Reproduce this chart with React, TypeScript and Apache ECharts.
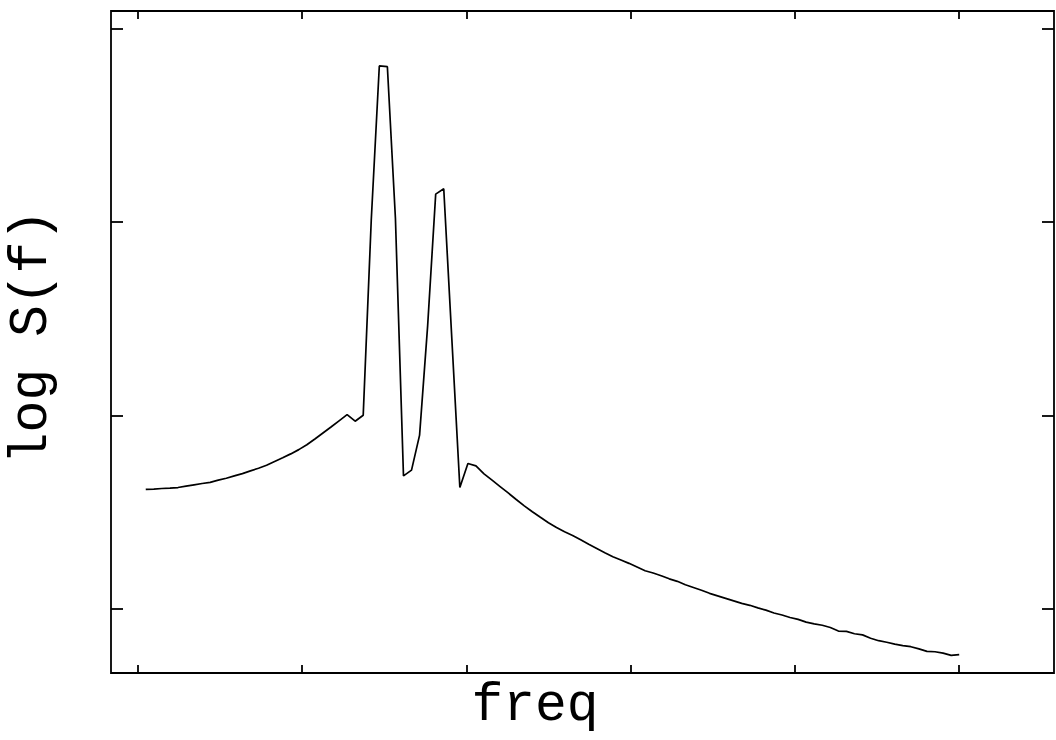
import React, { useEffect, useRef } from "react";
import * as echarts from "echarts";

// frequency step: f_k = k / 204, k = 1..102
const freqStep = 1 / 204;
const logS: number[] = [
  0.618, 0.620, 0.623, 0.625, 0.628, 0.635, 0.642, 0.649, 0.655, 0.666,
  0.676, 0.688, 0.700, 0.714, 0.728, 0.743, 0.763, 0.782, 0.802, 0.824,
  0.849, 0.879, 0.910, 0.941, 0.973, 1.005, 0.971, 1.002, 2.011, 2.808,
  2.804, 2.020, 0.688, 0.718, 0.899, 1.464, 2.145, 2.173, 1.400, 0.628,
  0.752, 0.740, 0.699, 0.666, 0.633, 0.600, 0.566, 0.533, 0.503, 0.474,
  0.446, 0.421, 0.399, 0.380, 0.358, 0.335, 0.313, 0.291, 0.270, 0.253,
  0.236, 0.217, 0.198, 0.186, 0.172, 0.156, 0.143, 0.125, 0.111, 0.097,
  0.081, 0.068, 0.055, 0.042, 0.029, 0.019, 0.006, -0.006, -0.021, -0.031,
  -0.044, -0.054, -0.068, -0.077, -0.084, -0.096, -0.114, -0.116, -0.128, -0.134,
  -0.151, -0.164, -0.172, -0.182, -0.189, -0.195, -0.206, -0.219, -0.221, -0.228,
  -0.240, -0.236,
];
const xTicks = [0, 0.1, 0.2, 0.3, 0.4, 0.5];
const yTicks = [0, 1, 2, 3];
const xLabel = "freq";
const yLabel = "log S(f)";

const FONT = "'Courier New', 'Liberation Mono', monospace";

export default function App() {
  const ref = useRef<HTMLDivElement>(null);
  useEffect(() => {
    if (!ref.current) return;
    const chart = echarts.init(ref.current, null, { renderer: "svg" });
    const data = logS.map((v, i) => [(i + 1) * freqStep, v]);
    const xMin = -0.01625, xMax = 0.5577, yMin = -0.331, yMax = 3.092;
    const xAxisBase = (pos: "bottom" | "top") => ({
      type: "value" as const,
      position: pos,
      min: xMin,
      max: xMax,
      axisLine: { show: false, onZero: false },
      splitLine: { show: false },
      axisLabel: { show: false },
      axisTick: {
        show: true,
        inside: true,
        length: 8,
        customValues: xTicks,
        lineStyle: { color: "#000", width: 1.8 },
      },
    });
    const yAxisBase = (pos: "left" | "right") => ({
      type: "value" as const,
      position: pos,
      min: yMin,
      max: yMax,
      axisLine: { show: false, onZero: false },
      splitLine: { show: false },
      axisLabel: { show: false },
      axisTick: {
        show: true,
        inside: true,
        length: 12,
        customValues: yTicks,
        lineStyle: { color: "#000", width: 1.8 },
      },
    });
    chart.setOption({
      animation: false,
      backgroundColor: "#fff",
      grid: {
        left: 111,
        top: 11,
        right: 2,
        bottom: 67,
        show: true,
        borderColor: "#000",
        borderWidth: 1.8,
        backgroundColor: "transparent",
      },
      xAxis: [xAxisBase("bottom"), xAxisBase("top")],
      yAxis: [yAxisBase("left"), yAxisBase("right")],
      series: [
        {
          type: "line",
          data,
          symbol: "none",
          lineStyle: { color: "#000", width: 1.7 },
          xAxisIndex: 0,
          yAxisIndex: 0,
        },
      ],
      graphic: [
        {
          type: "text",
          x: 535,
          y: 706,
          style: {
            text: xLabel,
            fontFamily: FONT,
            fontSize: 53,
            fill: "#000",
            align: "center",
            verticalAlign: "middle",
          },
        },
        {
          type: "text",
          x: 32,
          y: 337,
          rotation: Math.PI / 2,
          style: {
            text: yLabel,
            fontFamily: FONT,
            fontSize: 53,
            fill: "#000",
            align: "center",
            verticalAlign: "middle",
          },
        },
      ],
    });
    return () => chart.dispose();
  }, []);
  return <div ref={ref} style={{ width: 1056, height: 740, position: "absolute", left: 0, top: 0 }} />;
}
